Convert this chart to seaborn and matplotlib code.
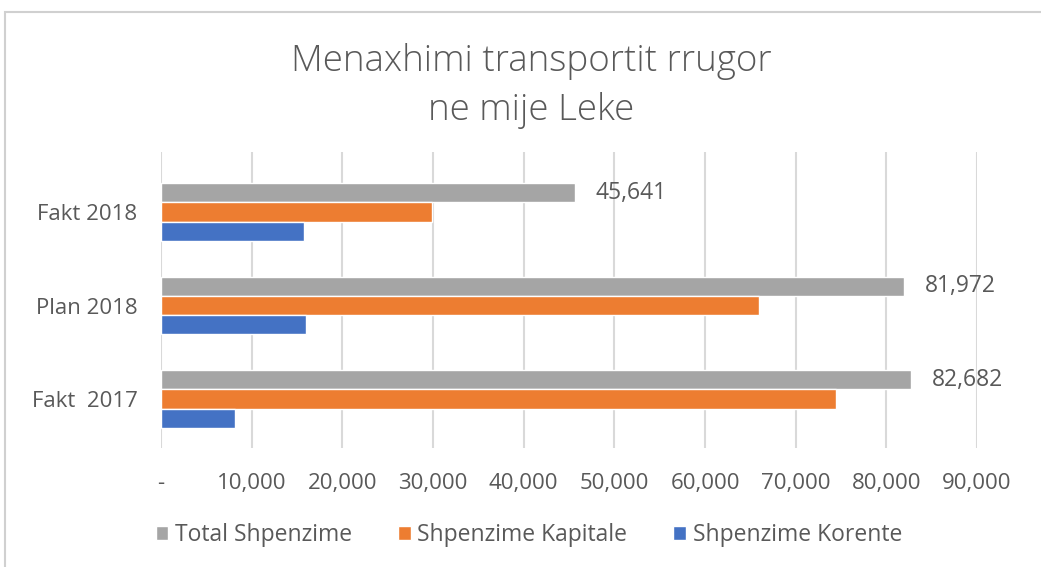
import matplotlib
matplotlib.use("Agg")
import matplotlib.pyplot as plt
import seaborn as sns
import pandas as pd
from matplotlib.patches import Rectangle

categories = ["Fakt 2018", "Plan 2018", "Fakt  2017"]
series_names = ["Total Shpenzime", "Shpenzime Kapitale", "Shpenzime Korente"]
total = [45641, 81972, 82682]
kapitale = [29900, 66000, 74500]
korente = [15741, 15972, 8182]
x_ticks = [0, 10000, 20000, 30000, 40000, 50000, 60000, 70000, 80000, 90000]
x_labels = ["-", "10,000", "20,000", "30,000", "40,000", "50,000", "60,000", "70,000", "80,000", "90,000"]
colors = ["#A5A5A5", "#ED7D31", "#4472C4"]

rows = []
for name, vals in zip(series_names, [total, kapitale, korente]):
    for c, v in zip(categories, vals):
        rows.append({"cat": c, "series": name, "value": v})
df = pd.DataFrame(rows)

sns.set_style("white")
plt.rcParams["font.family"] = ["Open Sans", "DejaVu Sans"]
TXT = "#595959"

W, H = 1041, 567
fig = plt.figure(figsize=(W / 100, H / 100), dpi=100)
fig.patch.set_facecolor("white")

# outer chart border (cropped on right and bottom)
fig.patches.append(Rectangle((5 / W, -0.1), 1.2, 1 - 12 / H + 0.1, transform=fig.transFigure,
                             fill=False, edgecolor="#D0D0D0", linewidth=1.5))

ax = fig.add_axes([161 / W, 1 - 448 / H, (977 - 161) / W, (448 - 152) / H])
sns.barplot(data=df, y="cat", x="value", hue="series", order=categories,
            hue_order=series_names, palette=colors, orient="h", width=0.62,
            saturation=1, ax=ax, legend=True, errorbar=None)

ax.set_xlim(0, 90000)
ax.set_ylim(2.524, -0.642)
ax.set_xticks(x_ticks)
ax.set_xticklabels(x_labels)
ax.set_xlabel("")
ax.set_ylabel("")
for s in ax.spines.values():
    s.set_visible(False)
ax.grid(axis="x", color="#D9D9D9", linewidth=1.5)
ax.grid(axis="y", visible=False)
ax.set_axisbelow(True)
ax.tick_params(axis="x", length=0, pad=18, labelsize=16, labelcolor=TXT)
ax.tick_params(axis="y", length=0, pad=17, labelsize=16, labelcolor=TXT)

ax.bar_label(ax.containers[0], labels=[f"{v:,.0f}" for v in total],
             padding=15, fontsize=16.5, color=TXT)

handles, labels = ax.get_legend_handles_labels()
ax.get_legend().remove()
fig.legend(handles, labels, loc="center", bbox_to_anchor=(0.508, 1 - 535 / H), ncol=3,
           frameon=False, fontsize=16.5, labelcolor=TXT, handlelength=0.55, handleheight=0.55,
           handletextpad=0.3, columnspacing=2.0)

fig.text(0.51, 1 - 86 / H, "Menaxhimi transportit rrugor\nne mije Leke", ha="center", va="center",
         fontsize=26.5, color=TXT, linespacing=1.4, fontweight="light")

fig.savefig("out.png", dpi=100)
